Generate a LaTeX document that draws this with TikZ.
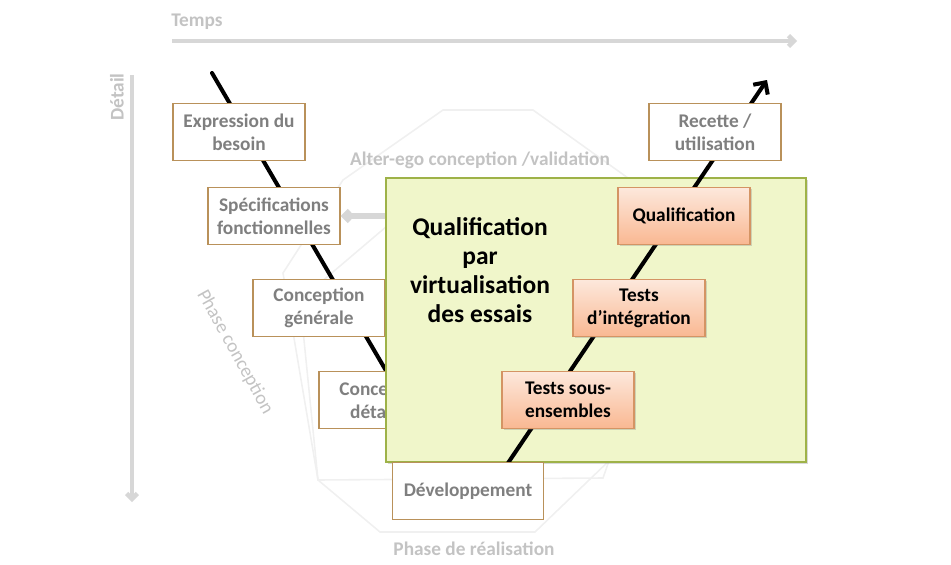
\documentclass[tikz,border=0pt]{standalone}
\usepackage{fontspec}
\setmainfont{Carlito}
\usepackage{tikz}
\usetikzlibrary{positioning, arrows.meta, shadows}

\definecolor{boxgray}{RGB}{127,127,127}
\definecolor{lblgray}{RGB}{195,195,195}
\definecolor{axisgray}{RGB}{215,215,215}
\definecolor{boxedge}{RGB}{185,145,90}
\definecolor{qtop}{RGB}{253,232,220}
\definecolor{qbot}{RGB}{249,184,146}
\definecolor{qedge}{RGB}{212,148,100}
\definecolor{virtfill}{RGB}{240,246,202}
\definecolor{virtedge}{RGB}{158,178,72}

\begin{document}
\begin{tikzpicture}[x=0.02cm, y=-0.02cm,
  phase/.style={rectangle, draw=boxedge, fill=white, line width=0.7pt, minimum width=2.64cm, minimum height=1.14cm, align=center, font=\fontsize{11}{13}\selectfont\bfseries, text=boxgray},
  essai/.style={phase, draw=qedge, top color=qtop, bottom color=qbot, text=black, drop shadow={opacity=0.3, shadow xshift=1pt, shadow yshift=-1pt}},
  virt/.style={rectangle, draw=virtedge, fill=virtfill, line width=0.7pt, drop shadow={opacity=0.3, shadow xshift=1pt, shadow yshift=-1pt}},
  lbl/.style={font=\fontsize{11}{13}\selectfont\bfseries, text=lblgray},
  axis/.style={draw=axisgray, line width=2.6pt, -{Straight Barb[length=3pt, width=6pt]}},
  vline/.style={line width=2.3pt, line cap=round},
  ghost/.style={draw=black!6, line width=0.9pt}
]
\useasboundingbox (0,0) rectangle (951,565);

% ── Background outlines ───────────────────────────────────────
\draw[ghost] (343,180) -- (443,110) -- (533,110) -- (628,178) -- (655,330)
  -- (603,478) -- (318,480) -- (283,273) -- cycle;
\draw[ghost] (380,532) -- (535,532) -- (612,458) -- (640,300) -- (560,215)
  -- (400,215) -- (300,300) -- (318,480) -- cycle;

% ── Axes ──────────────────────────────────────────────────────
\coordinate (t0) at (172,41);
\coordinate (t1) at (797,41);
\coordinate (d0) at (132,75);
\coordinate (d1) at (132,502);
\draw[axis] (t0) -- (t1);
\draw[axis] (d0) -- (d1);
\node[lbl] (temps) at (197,22) {Temps};
\node[lbl, rotate=90] (detail) at (117,97) {Détail};
\node[lbl, font=\fontsize{11}{13}\selectfont, rotate=-61] (phc) at (235,352) {Phase conception};
\node[lbl] (alter) at (480,160) {Alter-ego conception /validation};
\node[lbl] (phr) at (474,549) {Phase de réalisation};

% ── V cycle, descending branch ────────────────────────────────
\coordinate (vtop) at (212,73);
\coordinate (vbl)  at (440,463);
\coordinate (vbr)  at (508,463);
\coordinate (vend) at (767,80);
\draw[vline] (vtop) -- (vbl);

\node[phase] (besoin) at (239,132) {Expression du\\besoin};
\node[phase] (spec)   at (274,216) {Spécifications\\fonctionnelles};
\node[phase] (cgen)   at (319,308) {Conception\\générale};
\node[phase] (cdet)   at (385,400) {Conception\\détaillée};

% ── Virtualisation block ──────────────────────────────────────
\node[virt, minimum width=8.4cm, minimum height=5.68cm] (virt) at (596,320) {};
\draw[axis, line width=3pt] (virt.west |- spec.east) -- (spec.east);
\node[align=center, font=\fontsize{14.5}{16.5}\selectfont\bfseries] (titre) at (480,270)
  {Qualification\\par\\virtualisation\\des essais};

% ── V cycle, ascending branch ─────────────────────────────────
\draw[vline, -{Straight Barb[length=5pt, width=10pt]}] (vbr) -- (vend);
\node[essai] (qualif) at (684,216) {Qualification};
\node[essai] (integ)  at (639,308) {Tests\\d’intégration};
\node[essai] (sousens) at (568,400) {Tests sous-\\ensembles};
\node[phase] (recet)  at (715,132) {Recette /\\utilisation};

\node[phase, minimum width=3.02cm] (dev) at (468,491) {Développement};
\end{tikzpicture}
\end{document}
